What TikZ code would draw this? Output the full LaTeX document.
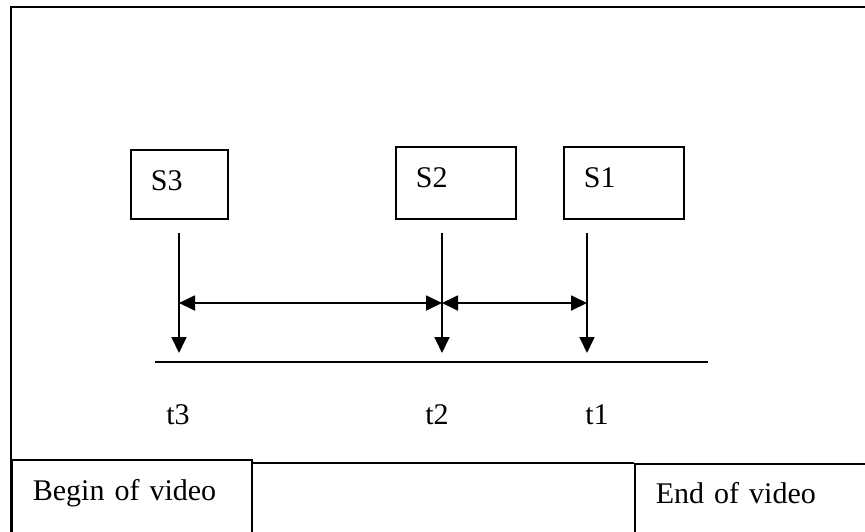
\documentclass[tikz,border=0pt]{standalone}
\usepackage{fontspec}
\setmainfont{Liberation Serif}
\usetikzlibrary{arrows.meta,positioning}

\tikzset{
    bigfont/.style={font=\fontsize{30}{36}\selectfont},
    shotbox/.style={draw,bigfont,line width=1.8pt,anchor=north west,align=left,
        inner xsep=20pt,inner ysep=20pt,text height=21pt,text depth=11pt},
    vidbox/.style={draw,bigfont,line width=1.8pt,anchor=north west,align=left,
        inner xsep=21pt,inner ysep=20pt,text height=21pt,text depth=60pt},
    timearrow/.style={line width=1.8pt,-{Triangle[length=16pt,width=15pt]}},
    gaparrow/.style={line width=1.8pt,{Triangle[length=16pt,width=15pt]}-{Triangle[length=16pt,width=15pt]}}
}

\begin{document}
\begin{tikzpicture}[x=1pt,y=-1pt]
    \useasboundingbox (0,0) rectangle (865,531);
    \clip (0,0) rectangle (865,531);
    \fill[white] (0,0) rectangle (865,531);
    % outer frame
    \draw[line width=1.8pt] (11,7) rectangle (880,560);

    % shots
    \node[shotbox,text width=57pt,text depth=8pt] (s3) at (130,149) {S3};
    \node[shotbox,text width=80pt] (s2) at (395,146) {S2};
    \node[shotbox,text width=80pt] (s1) at (563,146) {S1};

    % time points
    \coordinate (top3) at (179,233);
    \coordinate (top2) at (442,233);
    \coordinate (top1) at (587,233);
    \coordinate (tip3) at (179,353);
    \coordinate (tip2) at (442,353);
    \coordinate (tip1) at (587,353);
    \draw[timearrow] (top3) -- (tip3);
    \draw[timearrow] (top2) -- (tip2);
    \draw[timearrow] (top1) -- (tip1);

    % gaps
    \coordinate (gap3) at (179,303);
    \coordinate (gap2) at (442,303);
    \coordinate (gap1) at (587,303);
    \draw[gaparrow] (gap3) -- (gap2);
    \draw[gaparrow] (gap2) -- (gap1);

    % time axis
    \coordinate (axl) at (155,362);
    \coordinate (axr) at (708,362);
    \draw[line width=1.8pt] (axl) -- (axr);
    \node[bigfont,anchor=base] (t3) at (178,424) {t3};
    \node[bigfont,anchor=base] (t2) at (437,424) {t2};
    \node[bigfont,anchor=base] (t1) at (597,424) {t1};

    % video ends
    \node[vidbox,text width=198pt] (begin) at (11,459) {Begin of video};
    \node[vidbox,text width=210pt,inner ysep=19pt] (end) at (634,463) {End of video};
    \draw[line width=1.8pt] (begin.north east |- end.north) -- (end.north west);
\end{tikzpicture}
\end{document}
